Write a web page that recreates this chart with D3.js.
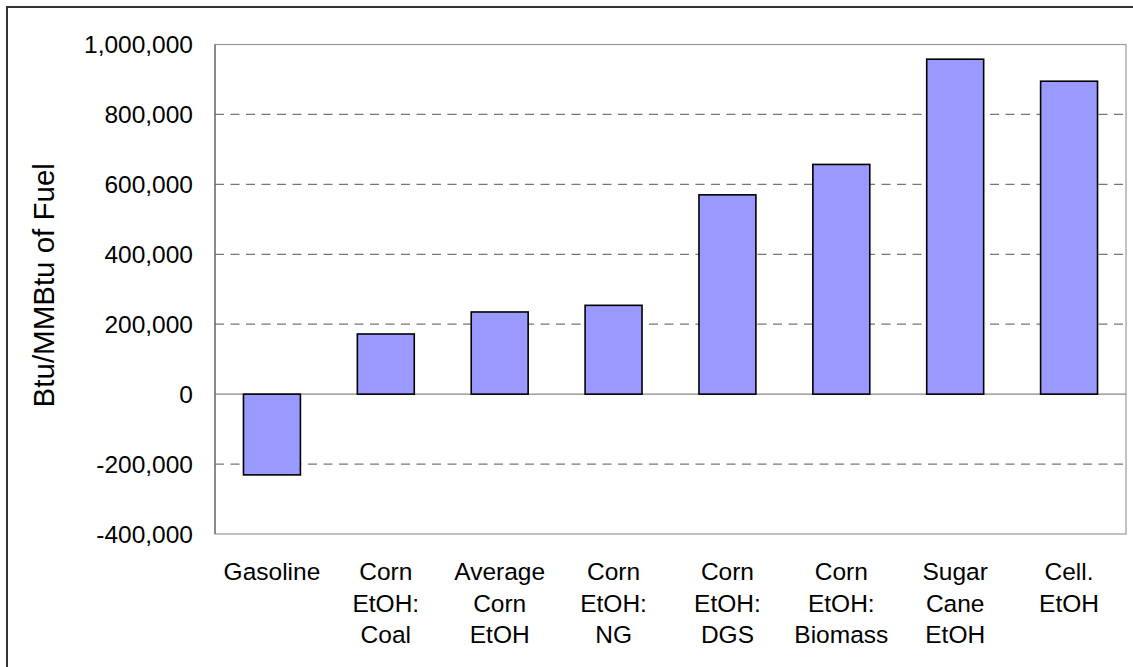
<!DOCTYPE html>
<html>
<head>
<meta charset="utf-8">
<script src="https://cdn.jsdelivr.net/npm/d3@7"></script>
<style>
  html, body { margin: 0; padding: 0; background: #fff; }
  svg { display: block; }
  text { font-family: Arial, "Liberation Sans", sans-serif; fill: #000; }
</style>
</head>
<body>
<svg id="chart" width="1133" height="667"></svg>
<script>
// ---- data ----
const categories = [
  ["Gasoline"],
  ["Corn", "EtOH:", "Coal"],
  ["Average", "Corn", "EtOH"],
  ["Corn", "EtOH:", "NG"],
  ["Corn", "EtOH:", "DGS"],
  ["Corn", "EtOH:", "Biomass"],
  ["Sugar", "Cane", "EtOH"],
  ["Cell.", "EtOH"]
];
const values = [-231000, 172000, 235000, 254000, 570000, 657000, 958000, 895000];
const yTicks = [-400000, -200000, 0, 200000, 400000, 600000, 800000, 1000000];
const yTitle = "Btu/MMBtu of Fuel";

// ---- layout ----
const svg = d3.select("#chart");
const plot = { left: 215, right: 1126, top: 44.5, bottom: 534 };

// outer border (clipped at right/bottom like the reference)
svg.append("rect")
  .attr("x", 7).attr("y", 7)
  .attr("width", 1140).attr("height", 680)
  .attr("fill", "none").attr("stroke", "#333").attr("stroke-width", 2);

const x = d3.scaleBand()
  .domain(d3.range(categories.length))
  .range([plot.left, plot.right])
  .paddingInner(0.5)
  .paddingOuter(0.25);

const y = d3.scaleLinear()
  .domain([-400000, 1000000])
  .range([plot.bottom, plot.top]);

// plot area border
svg.append("rect")
  .attr("x", plot.left).attr("y", plot.top)
  .attr("width", plot.right - plot.left).attr("height", plot.bottom - plot.top)
  .attr("fill", "#fff").attr("stroke", "#999").attr("stroke-width", 1.2);

// gridlines (dashed)
svg.append("g")
  .selectAll("line")
  .data(yTicks.filter(d => d !== 0 && d !== -400000 && d !== 1000000))
  .join("line")
  .attr("x1", plot.left).attr("x2", plot.right)
  .attr("y1", d => y(d)).attr("y2", d => y(d))
  .attr("stroke", "#777").attr("stroke-width", 1.3)
  .attr("stroke-dasharray", "9,6.5");

// zero line
svg.append("line")
  .attr("x1", plot.left).attr("x2", plot.right)
  .attr("y1", y(0)).attr("y2", y(0))
  .attr("stroke", "#888").attr("stroke-width", 1.2);

// y axis line
svg.append("line")
  .attr("x1", plot.left).attr("x2", plot.left)
  .attr("y1", plot.top).attr("y2", plot.bottom)
  .attr("stroke", "#666").attr("stroke-width", 1.2);

// bars
svg.append("g")
  .selectAll("rect")
  .data(values)
  .join("rect")
  .attr("x", (d, i) => x(i))
  .attr("width", x.bandwidth())
  .attr("y", d => y(Math.max(0, d)))
  .attr("height", d => Math.abs(y(d) - y(0)))
  .attr("fill", "#9999FF")
  .attr("stroke", "#000")
  .attr("stroke-width", 1.6);

// y tick labels
const fmt = v => d3.format(",")(v).replace("\u2212", "-");
svg.append("g")
  .selectAll("text")
  .data(yTicks)
  .join("text")
  .attr("x", 193)
  .attr("y", d => y(d))
  .attr("dy", "0.36em")
  .attr("text-anchor", "end")
  .attr("font-size", "24.5px")
  .text(d => fmt(d));

// x category labels
const xl = svg.append("g")
  .selectAll("text")
  .data(categories)
  .join("text")
  .attr("x", (d, i) => x(i) + x.bandwidth() / 2)
  .attr("y", 580)
  .attr("text-anchor", "middle")
  .attr("font-size", "24.5px");
xl.selectAll("tspan")
  .data(d => d)
  .join("tspan")
  .attr("x", function() { return d3.select(this.parentNode).attr("x"); })
  .attr("dy", (d, i) => i === 0 ? 0 : 31.7)
  .text(d => d);

// y axis title
svg.append("text")
  .attr("transform", `translate(54, ${(plot.top + plot.bottom) / 2 - 4}) rotate(-90)`)
  .attr("text-anchor", "middle")
  .attr("font-size", "29.5px")
  .text(yTitle);
</script>
</body>
</html>
